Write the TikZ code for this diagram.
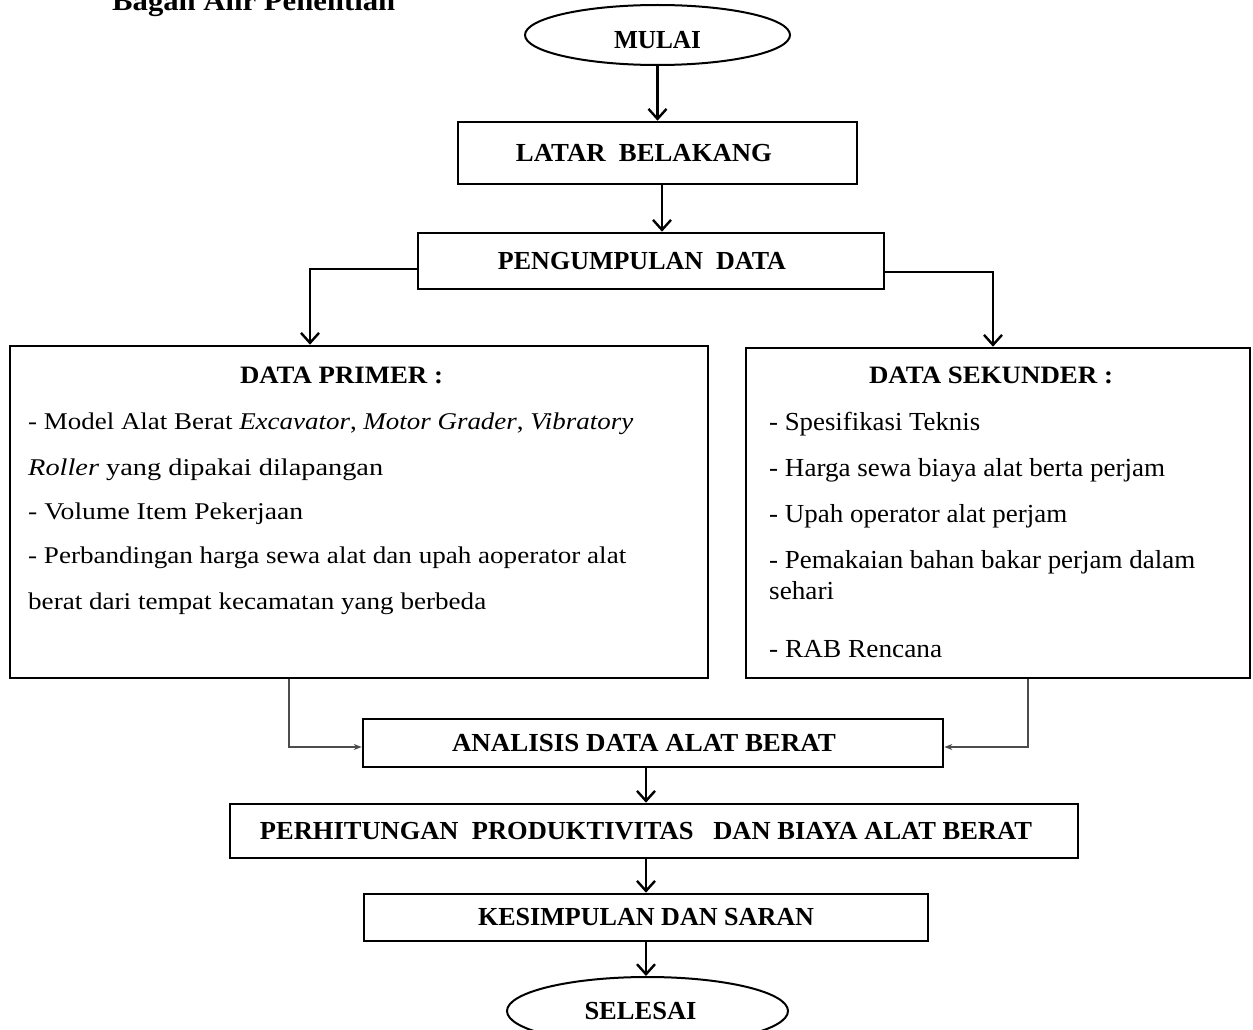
\documentclass[tikz,border=0pt]{standalone}
\usepackage{fontspec}
\setmainfont{Liberation Serif}
\usepackage{graphicx}
\usetikzlibrary{shapes.geometric,arrows.meta,calc}
\newcommand{\fitto}[2]{\resizebox{#1}{\height}{#2}}
\tikzset{
  box/.style={draw, line width=2.6pt, rectangle, inner sep=0pt, font=\bfseries\fontsize{26}{30}\selectfont},
  oval/.style={draw, ellipse, line width=2pt, inner sep=0pt, font=\bfseries\fontsize{26}{30}\selectfont},
  arr/.style={line width=2.4pt, -{Straight Barb[length=10pt,width=18pt,line width=2.4pt]}},
  thinarr/.style={line width=1.4pt, draw=black!70, -{Stealth[length=8pt,width=6pt]}},
  bodyp/.style={anchor=base west, inner sep=0pt, font=\fontsize{24}{28}\selectfont},
  bodys/.style={anchor=base west, inner sep=0pt, font=\fontsize{26}{30}\selectfont},
  ttl/.style={inner sep=0pt, font=\bfseries\fontsize{25}{30}\selectfont},
}
\begin{document}
\begin{tikzpicture}[x=1pt,y=1pt]
\fill[white] (0,0) rectangle (1253,-1030);
\useasboundingbox (0,0) rectangle (1253,-1030);

% title (partly cut at the top)
\node[anchor=base west, inner sep=0pt, font=\bfseries\fontsize{28}{32}\selectfont] (title) at (112,-11) {\fitto{283pt}{Bagan Alir Penelitian}};

% main nodes
\node[oval, minimum width=265pt, minimum height=60pt] (mulai) at (657.5,-35) {\raisebox{-5pt}[\height][0pt]{\fitto{87pt}{MULAI}}};
\node[box, minimum width=399pt, minimum height=62pt] (latar) at (657.5,-153) {\fitto{256pt}{LATAR~~BELAKANG}\hspace*{27pt}};
\node[box, minimum width=466pt, minimum height=56pt] (peng) at (651,-261) {\fitto{288pt}{PENGUMPULAN~~DATA}\hspace*{18pt}};

\node[box, minimum width=698pt, minimum height=332pt] (primer) at (359,-512) {};
\node[box, minimum width=504pt, minimum height=330pt] (sekunder) at (998,-513) {};

\node[ttl] (tprimer) at (341.5,-375) {\fitto{203pt}{DATA PRIMER :}};
\node[bodyp] (p1) at (28,-429) {\fitto{605pt}{- Model Alat Berat \textit{Excavator}, \textit{Motor Grader}, \textit{Vibratory}}};
\node[bodyp] (p2) at (28,-475) {\fitto{355pt}{\textit{Roller} yang dipakai dilapangan}};
\node[bodyp] (p3) at (28,-519) {\fitto{275pt}{- Volume Item Pekerjaan}};
\node[bodyp] (p4) at (28,-563) {\fitto{598pt}{- Perbandingan harga sewa alat dan upah aoperator alat}};
\node[bodyp] (p5) at (28,-609) {\fitto{458pt}{berat dari tempat kecamatan yang berbeda}};

\node[ttl] (tsekunder) at (991,-375) {\fitto{244pt}{DATA SEKUNDER :}};
\node[bodys] (s1) at (769,-430) {\fitto{211pt}{- Spesifikasi Teknis}};
\node[bodys] (s2) at (769,-476) {\fitto{396pt}{- Harga sewa biaya alat berta perjam}};
\node[bodys] (s3) at (769,-522) {\fitto{298pt}{- Upah operator alat perjam}};
\node[bodys] (s4) at (769,-568) {\fitto{426pt}{- Pemakaian bahan bakar perjam dalam}};
\node[bodys] (s5) at (769,-599) {\fitto{65pt}{sehari}};
\node[bodys] (s6) at (769,-657) {\fitto{173pt}{- RAB Rencana}};

\node[box, minimum width=580pt, minimum height=48pt] (analisis) at (653,-743) {\fitto{384pt}{ANALISIS DATA ALAT BERAT}\hspace*{18pt}};
\node[box, minimum width=848pt, minimum height=54pt] (perh) at (654,-831) {\fitto{772pt}{PERHITUNGAN~~PRODUKTIVITAS~~~DAN BIAYA ALAT BERAT}\hspace*{16pt}};
\node[box, minimum width=564pt, minimum height=47pt] (kesimp) at (646,-917.5) {\fitto{336pt}{KESIMPULAN DAN SARAN}};
\node[oval, minimum width=281pt, minimum height=68pt] (selesai) at (647.5,-1011) {\fitto{112pt}{SELESAI}\hspace*{14pt}};

% connectors
\draw[arr] (mulai.south) -- (latar.north);
\draw[arr] ([xshift=4.5pt]latar.south) -- ([xshift=4.5pt]latar.south |- peng.north);
\draw[arr] ([yshift=-8pt]peng.west) -| ([xshift=-49pt]primer.north);
\draw[arr] ([yshift=-11pt]peng.east) -| ([xshift=-5pt]sekunder.north);
\draw[thinarr] ([xshift=-70pt]primer.south) |- ([yshift=-4pt]analisis.west);
\draw[thinarr] ([xshift=30pt]sekunder.south) |- ([yshift=-4pt]analisis.east);
\draw[arr] ([xshift=-7pt]analisis.south) -- ([xshift=-7pt]analisis.south |- perh.north);
\draw[arr] ([xshift=-8pt]perh.south) -- ([xshift=-8pt]perh.south |- kesimp.north);
\draw[arr] (kesimp.south) -- (kesimp.south |- selesai.north);
\end{tikzpicture}
\end{document}
